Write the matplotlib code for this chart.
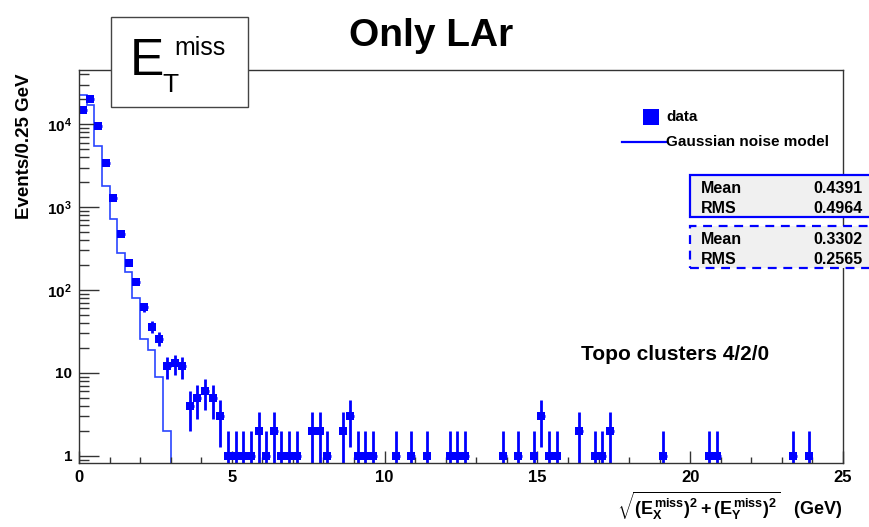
import numpy as np
import matplotlib
matplotlib.use('Agg')
import matplotlib.pyplot as plt
from matplotlib.patches import Rectangle
from matplotlib.lines import Line2D
from matplotlib.ticker import FixedLocator, FixedFormatter, MultipleLocator, LogLocator, NullFormatter

plt.rcParams['font.family'] = ['Liberation Sans', 'DejaVu Sans']
plt.rcParams['mathtext.fontset'] = 'custom'
plt.rcParams['mathtext.rm'] = 'Liberation Sans:bold'
plt.rcParams['mathtext.it'] = 'Liberation Sans:bold'
plt.rcParams['mathtext.bf'] = 'Liberation Sans:bold'

# data: bin centres (0.25 GeV bins) and counts
data_x = [0.125, 0.375, 0.625, 0.875, 1.125, 1.375, 1.625, 1.875, 2.125, 2.375,
          2.625, 2.875, 3.125, 3.375, 3.625, 3.875, 4.125, 4.375, 4.625, 4.875,
          5.125, 5.375, 5.625, 5.875, 6.125, 6.375, 6.625, 6.875, 7.125, 7.625,
          7.875, 8.125, 8.625, 8.875, 9.125, 9.375, 9.625, 10.375, 10.875, 11.375,
          12.125, 12.375, 12.625, 13.875, 14.375, 14.875, 15.125, 15.375, 15.625, 16.375,
          16.875, 17.125, 17.375, 19.125, 20.625, 20.875, 23.375, 23.875]
data_y = [15000, 20000, 9600, 3400, 1300, 480, 213, 126, 62, 36,
          26, 12, 13, 12, 4, 5, 6, 5, 3, 1,
          1, 1, 1, 2, 1, 2, 1, 1, 1, 2,
          2, 1, 2, 3, 1, 1, 1, 1, 1, 1,
          1, 1, 1, 1, 1, 1, 3, 1, 1, 2,
          1, 1, 2, 1, 1, 1, 1, 1]

# gaussian noise model histogram
model_edges = [0.0, 0.25, 0.5, 0.75, 1.0, 1.25, 1.5, 1.75, 2.0, 2.25, 2.5, 2.75, 3.0]
model_vals = [22400, 17000, 5500, 1820, 725, 280, 163, 80, 26, 19, 9, 2]

x_ticks = [0, 5, 10, 15, 20, 25]
y_ticks = [1, 10, 100, 1000, 10000]
y_labels = ['1', '10', r'$10^{2}$', r'$10^{3}$', r'$10^{4}$']

stats_data = [('Mean', '0.4391'), ('RMS', '0.4964')]
stats_model = [('Mean', '0.3302'), ('RMS', '0.2565')]

W, H = 870, 527
fig = plt.figure(figsize=(W / 100, H / 100), dpi=100)


def px(x, y):
    return x / W, 1 - y / H


ax = fig.add_axes([79 / W, 1 - 463 / H, (843 - 79) / W, (463 - 70) / H])
ax.set_yscale('log')
ax.set_xlim(0, 25)
ax.set_ylim(0.82, 45000)

blue = '#0000ff'
ax.stairs(model_vals, model_edges, baseline=1e-3, color='#2a45ff', lw=1.2)

y = np.array(data_y, dtype=float)
err = np.sqrt(y)
lo = y - np.maximum(y - err, 0.5)
hi = err
ax.errorbar(data_x, y, yerr=[lo, hi], xerr=0.125, fmt='s', color=blue, ms=6,
            elinewidth=2.0, capsize=0, mew=0)

for s in ax.spines.values():
    s.set_color('#333333')
    s.set_linewidth(1.0)

ax.xaxis.set_major_locator(FixedLocator(x_ticks))
ax.xaxis.set_minor_locator(MultipleLocator(1))
ax.yaxis.set_major_locator(FixedLocator(y_ticks))
ax.yaxis.set_major_formatter(FixedFormatter(y_labels))
ax.yaxis.set_minor_locator(LogLocator(base=10, subs=range(2, 10), numticks=20))
ax.yaxis.set_minor_formatter(NullFormatter())
ax.tick_params(axis='x', which='major', direction='in', length=8.6, width=1, color='#333333',
               labelsize=12, pad=5, top=False)
ax.tick_params(axis='x', which='minor', direction='in', length=4.3, width=1, color='#333333', top=False)
ax.tick_params(axis='y', which='major', direction='in', length=14.4, width=1, color='#333333',
               labelsize=11, pad=5, right=False)
ax.tick_params(axis='y', which='minor', direction='in', length=7.2, width=1, color='#333333', right=False)
for lab in ax.get_xticklabels() + ax.get_yticklabels():
    lab.set_fontweight('bold')

# title
fig.text(*px(431, 36), 'Only LAr', fontsize=28, fontweight='bold', ha='center', va='center')

# E_T^miss box
fig.add_artist(Rectangle(px(110.7, 107), (248 - 110.7) / W, (107 - 17) / H,
                         transform=fig.transFigure, facecolor='white', edgecolor='#444444', lw=1))
fig.text(*px(130, 75), 'E', fontsize=37, ha='left', va='baseline')
fig.text(*px(162, 92), 'T', fontsize=19, ha='left', va='baseline')
fig.text(*px(174, 55), 'miss', fontsize=18, ha='left', va='baseline')

# y label
fig.text(*px(24.5, 146), 'Events/0.25 GeV', fontsize=13.5, fontweight='bold',
         rotation=90, ha='center', va='center')

# x label
fig.text(*px(842, 506), r'$\sqrt{(E_{X}^{miss})^{2} + (E_{Y}^{miss})^{2}}$   (GeV)',
         fontsize=13, fontweight='bold', ha='right', va='center')

# legend
fig.add_artist(Line2D([px(650.7, 0)[0]], [px(0, 117.3)[1]], marker='s', ms=11.5, color=blue,
                      mew=0, transform=fig.transFigure))
fig.text(*px(666, 117.5), 'data', fontsize=11, fontweight='bold', ha='left', va='center')
fig.add_artist(Line2D([621.7 / W, 666 / W], [px(0, 142.3)[1]] * 2, color=blue, lw=1.6,
                      transform=fig.transFigure))
fig.text(*px(666, 142.5), 'Gaussian noise model', fontsize=11, fontweight='bold',
         ha='left', va='center')

# stats boxes
for top, rows, ls in [(175, stats_data, '-'), (226, stats_model, (0, (4, 3)))]:
    fig.add_artist(Rectangle(px(690.5, top + 41.5), 200 / W, 41.5 / H, transform=fig.transFigure,
                             facecolor='#f0f0f0', edgecolor=blue, lw=1.6, linestyle=ls,
                             clip_on=False))
    for k, (name, val) in enumerate(rows):
        yy = top + 13.3 + k * 20.5
        fig.text(*px(700.5, yy), name, fontsize=11.5, fontweight='bold', ha='left', va='center')
        fig.text(*px(863, yy), val, fontsize=11.5, fontweight='bold', ha='right', va='center')

# annotation
fig.text(*px(675, 354), 'Topo clusters 4/2/0', fontsize=15, fontweight='bold',
         ha='center', va='center')

fig.savefig('out.png', dpi=100)
